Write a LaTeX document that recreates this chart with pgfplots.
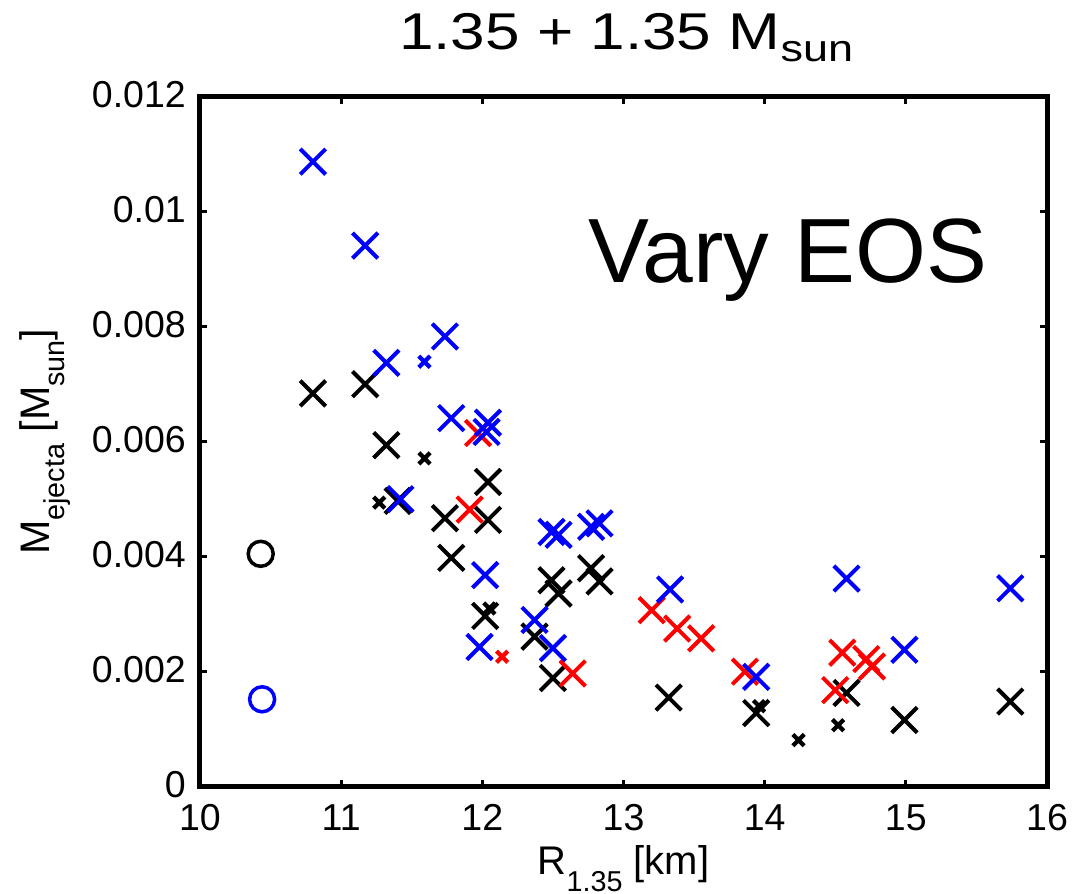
\documentclass[border=0pt]{standalone}
\usepackage{pgfplots}
\pgfplotsset{compat=1.18}
\usepackage{fontspec}
\setmainfont{Liberation Sans}
\newfontfamily\titlefont[FakeStretch=1.2]{Liberation Sans}

% lowered, smaller subscript as in the original axis labels
\newcommand{\lowsub}[3]{\raisebox{-#3}{\fontsize{#2}{#2}\selectfont #1}}

\definecolor{mblue}{RGB}{0,0,255}
\definecolor{mred}{RGB}{255,0,0}

\begin{document}
\begin{tikzpicture}
\begin{axis}[
  name=ax,
  scale only axis,
  width=338.8pt, height=276pt,
  xmin=10, xmax=16, ymin=0, ymax=0.012,
  xtick={10,11,12,13,14,15,16},
  xticklabels={10,11,12,13,14,15,16},
  ytick={0,0.002,0.004,0.006,0.008,0.01,0.012},
  yticklabels={0,0.002,0.004,0.006,0.008,0.01,0.012},
  scaled y ticks=false,
  /pgf/number format/assume math mode=true,
  tick label style={font=\fontsize{15}{18}\selectfont, inner sep=0.2pt},
  xticklabel style={yshift=-6.8pt},
  yticklabel style={xshift=-5.3pt, yshift=1pt},
  tick align=inside,
  major tick length=2.8pt,
  axis line style={line width=2pt},
  every tick/.style={black, line width=1.3pt},
  xlabel={R\lowsub{1.35}{11.5pt}{7pt} [km]},
  xlabel style={at={(axis description cs:0.5,0)}, anchor=base, yshift=-35pt,
                font=\fontsize{16}{18}\selectfont},
  ylabel={M\lowsub{ejecta}{11.5pt}{6pt} [M\lowsub{sun}{11.5pt}{6pt}]},
  ylabel style={at={(axis description cs:0,0.5)}, anchor=base, yshift=60pt,
                font=\fontsize{16.5}{18}\selectfont},
  title={\titlefont 1.35 + 1.35 M\lowsub{\titlefont sun}{15pt}{4.8pt}},
  title style={at={(axis description cs:0.503,1)}, anchor=base, yshift=12.7pt,
               font=\fontsize{20.7}{24}\selectfont},
  clip=false,
]

% black: large crosses
\addplot[only marks, mark=x, mark size=7.2pt, line width=1.6pt, black] coordinates {
  (10.80,0.00684) (11.17,0.00700) (11.32,0.00594) (11.40,0.00497)
  (11.735,0.00467) (11.78,0.00398) (12.04,0.00530) (12.04,0.00464)
  (12.02,0.00297) (12.37,0.00261) (12.49,0.00359) (12.54,0.00336)
  (12.50,0.00189) (12.77,0.00380) (12.83,0.00357) (13.32,0.00155)
  (13.94,0.00128) (14.58,0.00163) (14.99,0.00116) (15.74,0.00148)
};
% black: small crosses
\addplot[only marks, mark=x, mark size=3.2pt, line width=1.7pt, black] coordinates {
  (11.27,0.00494) (11.59,0.00571) (12.05,0.00310) (13.96,0.00140)
  (14.24,0.00081) (14.52,0.00107)
};
% black: circle
\addplot[only marks, mark=o, mark size=5.0pt, line width=1.4pt, black] coordinates {
  (10.43,0.00405)
};

% red: large crosses
\addplot[only marks, mark=x, mark size=7.2pt, line width=1.6pt, mred] coordinates {
  (11.97,0.00615) (11.91,0.00482) (12.64,0.00197) (13.20,0.00307)
  (13.38,0.00275) (13.55,0.00258) (13.86,0.00200) (14.55,0.00233)
  (14.72,0.00222) (14.76,0.00209) (14.50,0.00168)
};
% red: small cross
\addplot[only marks, mark=x, mark size=3.2pt, line width=1.7pt, mred] coordinates {
  (12.14,0.00226)
};

% blue: large crosses
\addplot[only marks, mark=x, mark size=7.2pt, line width=1.6pt, mblue] coordinates {
  (10.80,0.01087) (11.17,0.00941) (11.32,0.00737) (11.735,0.00783)
  (11.78,0.00641) (12.04,0.00633) (12.03,0.00617) (11.42,0.00500)
  (12.02,0.00368) (11.98,0.00243) (12.37,0.00290) (12.50,0.00241)
  (12.49,0.00443) (12.54,0.00438) (12.77,0.00452) (12.83,0.00458)
  (13.33,0.00343) (13.94,0.00191) (14.58,0.00362) (14.99,0.00238)
  (15.74,0.00345)
};
% blue: small cross
\addplot[only marks, mark=x, mark size=3.2pt, line width=1.7pt, mblue] coordinates {
  (11.59,0.00739)
};
% blue: circle
\addplot[only marks, mark=o, mark size=5.0pt, line width=1.4pt, mblue] coordinates {
  (10.44,0.00152)
};

\node[anchor=base west, inner sep=0pt, font=\fontsize{36.5}{40}\selectfont]
  at (rel axis cs:0.458,0.730) {Vary EOS};
\end{axis}
\pgfresetboundingbox
\path[use as bounding box]
  ([xshift=-80pt,yshift=-42.92pt]ax.south west)
  rectangle ([xshift=11.2pt,yshift=38.68pt]ax.north east);
\end{tikzpicture}
\end{document}
